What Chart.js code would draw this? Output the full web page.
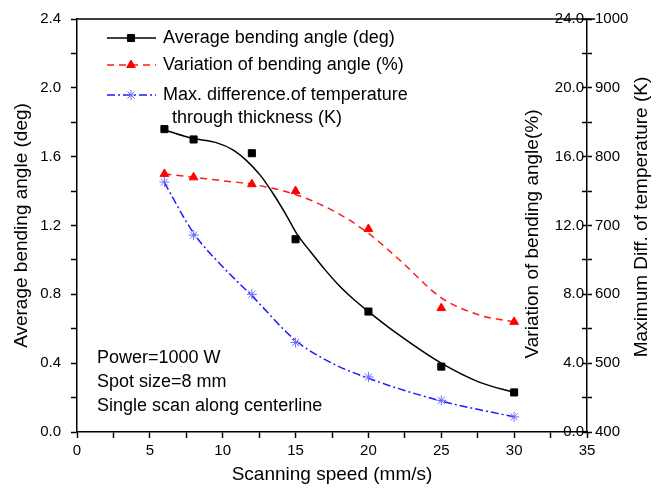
<!DOCTYPE html>
<html>
<head>
<meta charset="utf-8">
<script src="https://cdn.jsdelivr.net/npm/chart.js@4.4.1/dist/chart.umd.min.js"></script>
<style>
html, body { margin: 0; padding: 0; background: #fff; }
#wrap { width: 658px; height: 489px; }
</style>
</head>
<body>
<div id="wrap"><canvas id="bendChart" width="658" height="489"></canvas></div>
<script>
// measured points
const speeds = [6, 8, 12, 15, 20, 25, 30];
const avgAngle = [1.76, 1.70, 1.62, 1.12, 0.70, 0.38, 0.23];          // deg
const angleVariation = [15.0, 14.8, 14.4, 14.0, 11.8, 7.2, 6.4];     // %
const maxTempDiff = [763, 686, 600, 530, 480, 446, 422];              // K

// fitted curves
const avgFitSpeed = [6, 8, 9.6, 10.7, 11.6, 12.6, 13.5, 14.4, 15.1, 16, 17, 18, 19, 20, 22, 25, 27.6, 30];
const avgFitAngle = [1.755, 1.705, 1.68, 1.64, 1.58, 1.49, 1.38, 1.255, 1.15, 1.05, 0.945, 0.85, 0.77, 0.70, 0.57, 0.40, 0.29, 0.23];
const varFitSpeed = [6, 8, 10, 12, 15, 17.6, 20, 22.2, 25, 27.6, 30];
const varFitValue = [15.0, 14.8, 14.6, 14.4, 13.8, 12.85, 11.55, 9.95, 7.8, 6.8, 6.4];
const tempFitSpeed = [6, 8, 10, 12, 15, 17.5, 20, 25, 30];
const tempFitValue = [762, 689, 640, 598, 533, 500, 478, 445, 422];

// tick labels
const xTickLabels = [0, 5, 10, 15, 20, 25, 30, 35];
const angleTickLabels = [0.0, 0.4, 0.8, 1.2, 1.6, 2.0, 2.4];
const variationTickLabels = [0, 4, 8, 12, 16, 20, 24];
const tempTickLabels = [400, 500, 600, 700, 800, 900, 1000];

const legendLabels = [['Average bending angle (deg)'], ['Variation of bending angle (%)'], ['Max. difference.of temperature', 'through thickness (K)']];
const notes = ['Power=1000 W', 'Spot size=8 mm', 'Single scan along centerline'];

const FONT = "'Liberation Sans', Arial, sans-serif";
Chart.defaults.font.family = FONT;
Chart.defaults.color = '#000';

const toXY = (xs, ys) => xs.map((x, i) => ({ x: x, y: ys[i] }));
const near = (v, list) => list.some(t => Math.abs(t - v) < 1e-6);

const BLACK = '#000000', RED = '#ff1a1a', BLUE = '#1a1aff', STAR = '#6a6aff';
const RED_DASH = [7, 5], BLUE_DASH = [8, 3, 2, 3];

/** 범례, 주석, 오른쪽 축 제목을 그리는 플러그인 */
const decorPlugin = {
    id: 'decor',
    afterDraw(chart) {
        const ctx = chart.ctx;
        const area = chart.chartArea;
        ctx.save();

        // top frame line
        ctx.strokeStyle = '#000';
        ctx.lineWidth = 1.5;
        ctx.beginPath();
        ctx.moveTo(area.left, area.top);
        ctx.lineTo(area.right + 8, area.top);
        ctx.stroke();

        // legend
        const entries = [
            { ds: chart.data.datasets[1], line: chart.data.datasets[0], y: 38 },
            { ds: chart.data.datasets[3], line: chart.data.datasets[2], y: 65 },
            { ds: chart.data.datasets[5], line: chart.data.datasets[4], y: 95 }
        ];
        entries.forEach((e, i) => {
            ctx.strokeStyle = e.line.borderColor;
            ctx.lineWidth = e.line.borderWidth;
            ctx.setLineDash(e.line.borderDash || []);
            ctx.beginPath();
            ctx.moveTo(107, e.y);
            ctx.lineTo(156, e.y);
            ctx.stroke();
            ctx.setLineDash([]);
            ctx.fillStyle = e.ds.backgroundColor;
            ctx.strokeStyle = e.ds.borderColor;
            ctx.lineWidth = e.ds.borderWidth;
            Chart.helpers.drawPoint(ctx, { pointStyle: e.ds.pointStyle, radius: e.ds.pointRadius, borderWidth: e.ds.borderWidth, rotation: 0 }, 131, e.y);

            ctx.fillStyle = '#000';
            ctx.font = '18px ' + FONT;
            ctx.textBaseline = 'middle';
            ctx.textAlign = 'left';
            legendLabels[i].forEach((t, k) => ctx.fillText(t, k === 0 ? 163 : 172, e.y + k * 23));
        });

        // notes
        ctx.font = '18px ' + FONT;
        notes.forEach((t, k) => ctx.fillText(t, 97, 358 + k * 24));

        // right axis titles (reading upward)
        ctx.font = '19px ' + FONT;
        ctx.textAlign = 'center';
        [['Variation of bending angle(%)', 533, 234], ['Maximum Diff. of temperature (K)', 642, 217]].forEach(([t, x, y]) => {
            ctx.save();
            ctx.translate(x, y);
            ctx.rotate(-Math.PI / 2);
            ctx.fillText(t, 0, 0);
            ctx.restore();
        });
        ctx.restore();
    }
};

new Chart(document.getElementById('bendChart'), {
    type: 'scatter',
    data: {
        datasets: [
            {
                label: 'avg fit', data: toXY(avgFitSpeed, avgFitAngle), yAxisID: 'y',
                showLine: true, borderColor: BLACK, borderWidth: 1.5, pointRadius: 0,
                cubicInterpolationMode: 'monotone', order: 2
            },
            {
                label: 'Average bending angle (deg)', data: toXY(speeds, avgAngle), yAxisID: 'y',
                pointStyle: 'rect', pointRadius: 5, backgroundColor: BLACK, borderColor: BLACK, borderWidth: 1, order: 1
            },
            {
                label: 'var fit', data: toXY(varFitSpeed, varFitValue), yAxisID: 'y2',
                showLine: true, borderColor: RED, borderWidth: 1.5, borderDash: RED_DASH, pointRadius: 0,
                cubicInterpolationMode: 'monotone', order: 2
            },
            {
                label: 'Variation of bending angle (%)', data: toXY(speeds, angleVariation), yAxisID: 'y2',
                pointStyle: 'triangle', pointRadius: 5, backgroundColor: '#ff0000', borderColor: '#ff0000', borderWidth: 1, order: 1
            },
            {
                label: 'temp fit', data: toXY(tempFitSpeed, tempFitValue), yAxisID: 'y3',
                showLine: true, borderColor: BLUE, borderWidth: 1.5, borderDash: BLUE_DASH, pointRadius: 0,
                cubicInterpolationMode: 'monotone', order: 2
            },
            {
                label: 'Max. difference of temperature (K)', data: toXY(speeds, maxTempDiff), yAxisID: 'y3',
                pointStyle: 'star', pointRadius: 5, backgroundColor: STAR, borderColor: STAR, borderWidth: 1, order: 1
            }
        ]
    },
    options: {
        responsive: false,
        animation: false,
        devicePixelRatio: 1,
        layout: { padding: { top: 17, right: 0, bottom: 0, left: 0 } },
        plugins: { legend: { display: false }, tooltip: { enabled: false } },
        scales: {
            x: {
                type: 'linear', min: 0, max: 35,
                afterFit: s => { s.height = 57; },
                border: { color: '#000', width: 1.5 },
                grid: { drawOnChartArea: false, tickLength: 6, color: '#000', tickWidth: 1.5 },
                ticks: {
                    stepSize: 2.5, padding: 4, font: { size: 15 },
                    callback: v => near(v, xTickLabels) ? String(Math.round(v)) : ''
                },
                title: { display: true, text: 'Scanning speed (mm/s)', font: { size: 19 }, padding: { top: 0, bottom: 3 } }
            },
            y: {
                position: 'left', min: 0, max: 2.4,
                afterFit: s => { s.width = 77; },
                border: { color: '#000', width: 1.5 },
                grid: { drawOnChartArea: false, tickLength: 6, color: '#000', tickWidth: 1.5 },
                ticks: {
                    stepSize: 0.2, padding: 10, font: { size: 15 },
                    callback: v => near(v, angleTickLabels) ? v.toFixed(1) : ''
                },
                title: { display: true, text: 'Average bending angle (deg)', font: { size: 19 }, padding: { top: 10, bottom: 0 } }
            },
            y2: {
                position: 'right', min: 0, max: 24,
                afterFit: s => { s.width = 0; },
                border: { display: false },
                grid: { drawOnChartArea: false, tickLength: -5, color: '#000', tickWidth: 1.5 },
                ticks: {
                    stepSize: 2, mirror: true, padding: -3, font: { size: 15 },
                    callback: v => near(v, variationTickLabels) ? v.toFixed(1) : ''
                }
            },
            y3: {
                position: 'right', min: 400, max: 1000,
                afterFit: s => { s.width = 71; },
                border: { color: '#000', width: 1.5 },
                grid: { drawOnChartArea: false, tickLength: 5, color: '#000', tickWidth: 1.5 },
                ticks: {
                    stepSize: 50, padding: 3, font: { size: 15 },
                    callback: v => near(v, tempTickLabels) ? String(v) : ''
                }
            }
        }
    },
    plugins: [decorPlugin]
});
</script>
</body>
</html>
